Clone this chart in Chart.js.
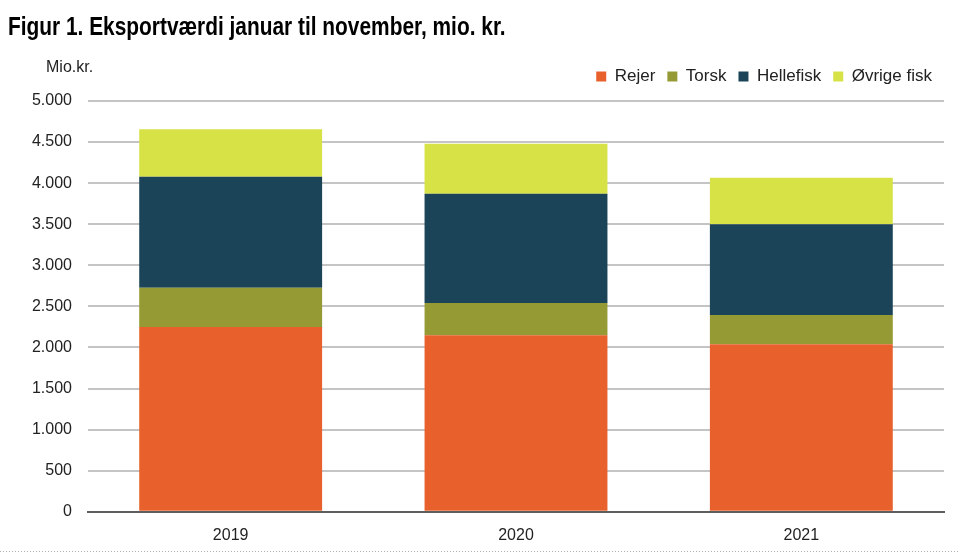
<!DOCTYPE html>
<html>
<head>
<meta charset="utf-8">
<script src="https://cdn.jsdelivr.net/npm/chart.js@4"></script>
<style>
  html, body { margin: 0; padding: 0; background: #fff; }
  #wrap { width: 960px; height: 554px; }
</style>
</head>
<body>
<div id="wrap"><canvas id="exportChart" width="960" height="554"></canvas></div>
<script>
// Data (mio. kr.)
const years = ['2019', '2020', '2021'];
const rejer = [2250, 2150, 2040];
const torsk = [478, 390, 355];
const hellefisk = [1350, 1330, 1105];
const oevrige = [578, 610, 565];
const yTicks = [0, 500, 1000, 1500, 2000, 2500, 3000, 3500, 4000, 4500, 5000];

const font = '"Liberation Sans", Arial, sans-serif';
const titleText = 'Figur 1. Eksportværdi januar til november, mio. kr.';

// title (narrow bold), "Mio.kr." above the y axis and the dotted rule at the bottom
const extras = {
  id: 'extras',
  beforeInit(chart) {
    // a bit more room between legend and plot
    const fit = chart.legend.fit;
    chart.legend.fit = function () {
      fit.call(this);
      this.height += 6;
    };
  },
  afterDraw(chart) {
    const c = chart.ctx;
    c.save();
    c.fillStyle = '#000';
    c.textBaseline = 'alphabetic';
    c.textAlign = 'left';
    c.font = 'bold 25px ' + font;
    c.translate(8, 35);
    c.scale(0.835, 1);
    c.fillText(titleText, 0, 0);
    c.restore();

    c.save();
    c.fillStyle = '#222';
    c.font = '16px ' + font;
    c.textBaseline = 'middle';
    c.textAlign = 'left';
    c.fillText('Mio.kr.', 46, 68);
    c.strokeStyle = '#b0b0b0';
    c.lineWidth = 1;
    c.setLineDash([1, 2]);
    c.beginPath();
    c.moveTo(0, 551.5);
    c.lineTo(960, 551.5);
    c.stroke();
    c.restore();
  }
};

const ctx = document.getElementById('exportChart').getContext('2d');
new Chart(ctx, {
  type: 'bar',
  data: {
    labels: years,
    datasets: [
      { label: 'Rejer', data: rejer, backgroundColor: '#e8612c' },
      { label: 'Torsk', data: torsk, backgroundColor: '#969a34' },
      { label: 'Hellefisk', data: hellefisk, backgroundColor: '#1c4458' },
      { label: 'Øvrige fisk', data: oevrige, backgroundColor: '#d6e246' }
    ]
  },
  options: {
    responsive: false,
    animation: false,
    layout: { padding: { left: 0, right: 16, top: 56, bottom: 3 } },
    datasets: { bar: { categoryPercentage: 1, barPercentage: 0.641 } },
    plugins: {
      title: { display: false },
      legend: {
        position: 'top',
        align: 'end',
        labels: {
          boxWidth: 10,
          boxHeight: 10,
          padding: 12,
          color: '#222',
          font: { family: font, size: 17 }
        }
      },
      tooltip: { enabled: false }
    },
    scales: {
      x: {
        stacked: true,
        grid: { display: false },
        border: { color: '#5e5e5e', width: 2 },
        ticks: { color: '#222', font: { family: font, size: 16 }, padding: 6 }
      },
      y: {
        stacked: true,
        min: 0,
        max: 5000,
        afterBuildTicks(scale) {
          scale.ticks = yTicks.map(v => ({ value: v }));
        },
        afterFit(scale) { scale.width = 88; },
        grid: { color: '#c4c4c4', lineWidth: 2, drawTicks: false },
        border: { display: false },
        ticks: {
          color: '#222',
          font: { family: font, size: 16 },
          padding: 16,
          callback: v => v.toLocaleString('da-DK')
        }
      }
    }
  },
  plugins: [extras]
});
</script>
</body>
</html>
